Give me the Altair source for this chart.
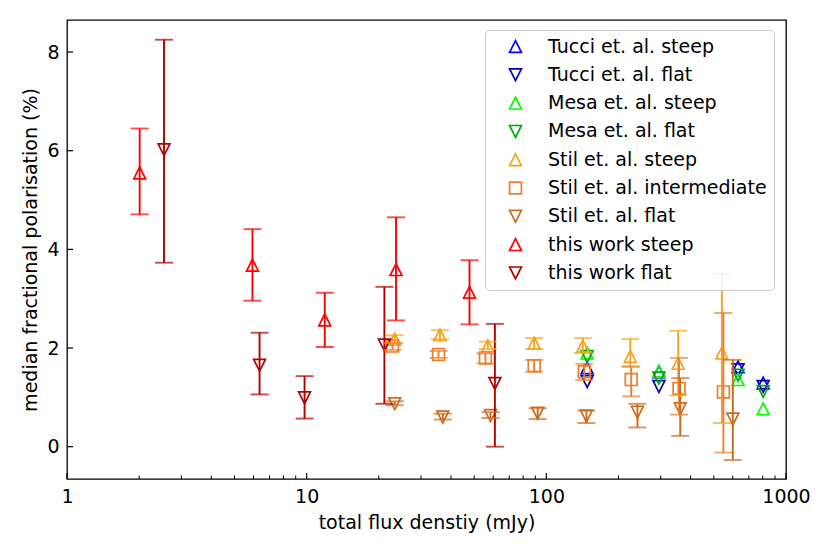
import altair as alt
import pandas as pd

# ---------------- data ----------------
series_names = [
    "Tucci et. al. steep", "Tucci et. al. flat",
    "Mesa et. al. steep", "Mesa et. al. flat",
    "Stil et. al. steep", "Stil et. al. intermediate", "Stil et. al. flat",
    "this work steep", "this work flat",
]
series_colors = ["#0000ff", "#0000b0", "#00ff00", "#00aa00",
                 "#f4a41c", "#ef7d2c", "#cc6a1c", "#ff0000", "#b00000"]

# Tucci / Mesa (no error bars)
tucci_steep_x = [148, 295, 631, 803]
tucci_steep_y = [1.60, 1.52, 1.62, 1.29]
tucci_flat_x = [148, 295, 631, 803]
tucci_flat_y = [1.32, 1.22, 1.56, 1.22]
mesa_steep_x = [148, 295, 631, 803]
mesa_steep_y = [1.90, 1.53, 1.36, 0.77]
mesa_flat_x = [148, 295, 631, 803]
mesa_flat_y = [1.83, 1.39, 1.45, 1.12]

# Stil et al.
stil_steep_x = [23.3, 36, 57, 89, 142, 224, 355, 540]
stil_steep_y = [2.18, 2.27, 2.05, 2.10, 2.04, 1.83, 1.69, 1.90]
stil_steep_lo = [2.10, 2.18, 1.98, 1.98, 1.90, 1.63, 1.04, 0.48]
stil_steep_hi = [2.26, 2.36, 2.13, 2.20, 2.20, 2.18, 2.35, 3.51]

stil_int_x = [22.8, 35.5, 55.7, 89, 144, 226, 358, 548]
stil_int_y = [2.04, 1.87, 1.80, 1.64, 1.52, 1.36, 1.18, 1.11]
stil_int_lo = [1.96, 1.80, 1.69, 1.52, 1.35, 1.02, 0.65, -0.12]
stil_int_hi = [2.10, 1.94, 1.89, 1.76, 1.68, 1.62, 1.80, 2.71]

stil_flat_x = [23.3, 37, 58.5, 92, 147, 240, 362, 600]
stil_flat_y = [0.87, 0.60, 0.63, 0.68, 0.62, 0.70, 0.77, 0.56]
stil_flat_lo = [0.84, 0.55, 0.58, 0.56, 0.48, 0.39, 0.22, -0.27]
stil_flat_hi = [0.92, 0.67, 0.70, 0.78, 0.73, 0.87, 1.39, 1.76]

# this work
tw_steep_x = [2.01, 5.94, 11.9, 23.6, 47.8]
tw_steep_y = [5.55, 3.68, 2.57, 3.59, 3.13]
tw_steep_lo = [4.71, 2.96, 2.02, 2.56, 2.48]
tw_steep_hi = [6.45, 4.41, 3.12, 4.65, 3.78]

tw_flat_x = [2.54, 6.36, 9.8, 21.1, 61]
tw_flat_y = [6.02, 1.65, 0.99, 2.06, 1.28]
tw_flat_lo = [3.73, 1.06, 0.57, 0.87, 0.0]
tw_flat_hi = [8.25, 2.31, 1.43, 3.24, 2.49]

x_label_values = [1, 10, 100, 1000]
x_minor_values = [2, 3, 4, 5, 6, 7, 8, 9, 20, 30, 40, 50, 60, 70, 80, 90,
                  200, 300, 400, 500, 600, 700, 800, 900]
y_label_values = [0, 2, 4, 6, 8]

# ---------------- tables ----------------
pts = []
def add_points(name, xs, ys):
    for a, b in zip(xs, ys):
        pts.append({"series": name, "flux": a, "pol": b})

add_points(series_names[0], tucci_steep_x, tucci_steep_y)
add_points(series_names[1], tucci_flat_x, tucci_flat_y)
add_points(series_names[2], mesa_steep_x, mesa_steep_y)
add_points(series_names[3], mesa_flat_x, mesa_flat_y)
add_points(series_names[4], stil_steep_x, stil_steep_y)
add_points(series_names[5], stil_int_x, stil_int_y)
add_points(series_names[6], stil_flat_x, stil_flat_y)
add_points(series_names[7], tw_steep_x, tw_steep_y)
add_points(series_names[8], tw_flat_x, tw_flat_y)
df_pts = pd.DataFrame(pts)

errs = []
def add_err(name, xs, lo, hi):
    for a, l, h in zip(xs, lo, hi):
        errs.append({"series": name, "flux": a, "lo": l, "hi": h})

add_err(series_names[4], stil_steep_x, stil_steep_lo, stil_steep_hi)
add_err(series_names[5], stil_int_x, stil_int_lo, stil_int_hi)
add_err(series_names[6], stil_flat_x, stil_flat_lo, stil_flat_hi)
add_err(series_names[7], tw_steep_x, tw_steep_lo, tw_steep_hi)
add_err(series_names[8], tw_flat_x, tw_flat_lo, tw_flat_hi)
df_err = pd.DataFrame(errs)

UP = "M0,-1L-1,1L1,1Z"
DOWN = "M0,1L-1,-1L1,-1Z"
SQ = "M-1,-1L1,-1L1,1L-1,1Z"
series_shapes = [UP, DOWN, UP, DOWN, UP, SQ, DOWN, UP, DOWN]
series_fills = ["rgba(255,255,255,0)"] * len(series_names)

W, H = 719, 459
FONT = "DejaVu Sans"
FS = 19

xscale = alt.Scale(type="log", domain=[1, 1000], nice=False)
yscale = alt.Scale(domain=[-0.655, 8.65], nice=False, zero=False)
cscale = alt.Scale(domain=series_names, range=series_colors)
sscale = alt.Scale(domain=series_names, range=series_shapes)
fscale = alt.Scale(domain=series_names, range=series_fills)

xaxis = alt.Axis(values=x_label_values, format="d", tickSize=0, domain=False,
                 grid=False, labelPadding=8, labelFlush=False,
                 title="total flux denstiy (mJy)", titlePadding=7)
yaxis = alt.Axis(values=y_label_values, tickSize=0, domain=False, grid=False,
                 labelPadding=8, title="median fractional polarisation (%)",
                 titlePadding=6)

X = lambda f: alt.X(f, scale=xscale, axis=xaxis)
Y = lambda f: alt.Y(f, scale=yscale, axis=yaxis)

leg = alt.Legend(title=None, orient="none", legendX=418, legendY=10)

points = alt.Chart(df_pts).mark_point(filled=False, strokeWidth=1.7, size=140, opacity=1).encode(
    x=X("flux:Q"),
    y=Y("pol:Q"),
    stroke=alt.Stroke("series:N", scale=cscale, legend=leg),
    shape=alt.Shape("series:N", scale=sscale, legend=leg),
    fill=alt.Fill("series:N", scale=fscale, legend=leg),
)

bars = alt.Chart(df_err).mark_rule(strokeWidth=1.9).encode(
    x=X("flux:Q"),
    y=Y("lo:Q"),
    y2="hi:Q",
    color=alt.Color("series:N", scale=cscale, legend=None),
)

caps = alt.Chart(df_err).transform_fold(["lo", "hi"], as_=["end", "yv"]).mark_tick(
    orient="horizontal", size=18, thickness=1.9).encode(
    x=X("flux:Q"),
    y=Y("yv:Q"),
    color=alt.Color("series:N", scale=cscale, legend=None),
)

ytick = alt.Chart(pd.DataFrame({"v": y_label_values})).mark_rule(color="black", strokeWidth=1.2).encode(
    y=Y("v:Q"), x=alt.value(0), x2=alt.value(6))
xtick = alt.Chart(pd.DataFrame({"v": x_label_values})).mark_rule(color="black", strokeWidth=1.2).encode(
    x=X("v:Q"), y=alt.value(H), y2=alt.value(H - 6))
xminor = alt.Chart(pd.DataFrame({"v": x_minor_values})).mark_rule(color="black", strokeWidth=1.0).encode(
    x=X("v:Q"), y=alt.value(H), y2=alt.value(H - 3.5))

chart = alt.layer(points, bars, caps, ytick, xtick, xminor).properties(
    width=W, height=H,
    autosize=alt.AutoSizeParams(type="none"),
    padding={"left": 59, "top": 12, "right": 30, "bottom": 60},
    background="white",
).configure_view(stroke="black", strokeWidth=1.3).configure_axis(
    labelFont=FONT, titleFont=FONT, labelFontSize=FS, titleFontSize=FS,
    labelColor="black", titleColor="black", titleFontWeight="normal",
).configure_legend(
    labelFont=FONT, labelFontSize=FS, labelColor="black", symbolSize=140,
    symbolStrokeWidth=1.7, padding=7, symbolOffset=14, labelOffset=23,
    rowPadding=8.3, strokeColor="#cccccc", fillColor="rgba(255,255,255,0.8)",
    cornerRadius=4, labelLimit=400,
)

chart.save("out.html", embed_options={"renderer": "svg", "actions": False})
